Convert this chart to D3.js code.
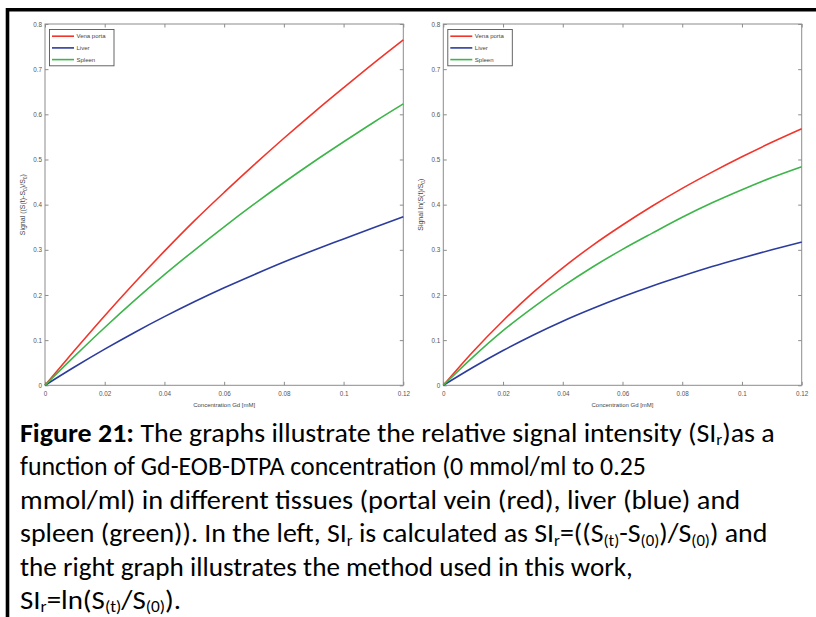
<!DOCTYPE html>
<html>
<head>
<meta charset="utf-8">
<script src="https://cdn.jsdelivr.net/npm/d3@7"></script>
<style>
  html, body { margin: 0; padding: 0; background: #ffffff; }
  svg { display: block; }
</style>
</head>
<body>
<svg id="fig" width="816" height="617"></svg>
<script>
// Gd concentration samples [mM]
const concentration = [0, 0.01, 0.02, 0.03, 0.04, 0.05, 0.06, 0.07, 0.08, 0.09, 0.10, 0.11, 0.12];

// Relative signal, (S(t)-S0)/S0
const portaRel  = [0, 0.078, 0.154, 0.227, 0.297, 0.364, 0.427, 0.488, 0.547, 0.604, 0.659, 0.713, 0.765];
const liverRel  = [0, 0.041, 0.080, 0.117, 0.152, 0.185, 0.216, 0.245, 0.273, 0.299, 0.324, 0.349, 0.373];
const spleenRel = [0, 0.065, 0.128, 0.188, 0.245, 0.299, 0.351, 0.401, 0.449, 0.495, 0.539, 0.582, 0.623];

// Relative signal, ln(S(t)/S0)
const portaLog  = [0, 0.075, 0.143, 0.205, 0.260, 0.310, 0.355, 0.397, 0.436, 0.472, 0.506, 0.538, 0.568];
const liverLog  = [0, 0.040, 0.077, 0.111, 0.142, 0.170, 0.196, 0.220, 0.242, 0.263, 0.282, 0.300, 0.317];
const spleenLog = [0, 0.063, 0.121, 0.172, 0.219, 0.262, 0.301, 0.337, 0.372, 0.404, 0.433, 0.460, 0.484];

const seriesNames  = ["Vena porta", "Liver", "Spleen"];
const seriesColors = ["#f2352b", "#2b3c9e", "#3db54a"];

const xTicks = [0, 0.02, 0.04, 0.06, 0.08, 0.10, 0.12];
const yTicks = [0, 0.1, 0.2, 0.3, 0.4, 0.5, 0.6, 0.7, 0.8];

const xTitle = "Concentration Gd [mM]";

const svg = d3.select("#fig");

// Page frame (left and top rule)
svg.append("path")
  .attr("d", "M7.5,617 V9.8 H816")
  .attr("fill", "none")
  .attr("stroke", "#000")
  .attr("stroke-width", 3.6);

function panel(opts) {
  const { left, right, top, bottom, series, yTitleParts, yTitleX } = opts;
  const x = d3.scaleLinear().domain([0, 0.12]).range([left, right]);
  const y = d3.scaleLinear().domain([0, 0.8]).range([bottom, top]);
  const g = svg.append("g");
  const tickFont = "Liberation Sans, Arial, sans-serif";
  const tickLen = 3.5;

  // plot box
  g.append("rect")
    .attr("x", left).attr("y", top)
    .attr("width", right - left).attr("height", bottom - top)
    .attr("fill", "#fff").attr("stroke", "#8c8c8c").attr("stroke-width", 1);

  const fmt = d => (d === 0 ? "0" : String(+d.toFixed(2)));

  const styleAxis = sel => {
    sel.select(".domain").remove();
    sel.selectAll(".tick line").attr("stroke", "#8c8c8c");
    sel.selectAll(".tick text")
      .attr("fill", "#555")
      .style("font-family", tickFont)
      .style("font-size", "6.3px");
  };

  g.append("g").attr("transform", `translate(0,${bottom})`)
    .call(d3.axisBottom(x).tickValues(xTicks).tickFormat(fmt).tickSizeInner(-tickLen).tickSizeOuter(0).tickPadding(6))
    .call(styleAxis);
  g.append("g").attr("transform", `translate(0,${top})`)
    .call(d3.axisTop(x).tickValues(xTicks).tickFormat("").tickSizeInner(-tickLen).tickSizeOuter(0))
    .call(styleAxis);
  g.append("g").attr("transform", `translate(${left},0)`)
    .call(d3.axisLeft(y).tickValues(yTicks).tickFormat(fmt).tickSizeInner(-tickLen).tickSizeOuter(0).tickPadding(3))
    .call(styleAxis);
  g.append("g").attr("transform", `translate(${right},0)`)
    .call(d3.axisRight(y).tickValues(yTicks).tickFormat("").tickSizeInner(-tickLen).tickSizeOuter(0))
    .call(styleAxis);

  // x title
  g.append("text")
    .attr("x", (left + right) / 2).attr("y", bottom + 21.5)
    .attr("text-anchor", "middle")
    .attr("fill", "#444")
    .style("font-family", tickFont).style("font-size", "6px")
    .text(xTitle);

  // y title (rotated), with subscripts
  const yt = g.append("text")
    .attr("transform", `translate(${yTitleX},${(top + bottom) / 2}) rotate(-90)`)
    .attr("text-anchor", "middle")
    .attr("fill", "#444")
    .style("font-family", tickFont).style("font-size", "7px");
  yTitleParts.forEach(p => {
    const t = yt.append("tspan").text(p.t);
    if (p.sub) t.attr("dy", 1.8).style("font-size", "5px");
    if (p.back) t.attr("dy", -1.8);
  });

  // curves
  const line = d3.line()
    .x((d, i) => x(concentration[i]))
    .y(d => y(d))
    .curve(d3.curveMonotoneX);
  series.forEach((vals, k) => {
    g.append("path")
      .datum(vals)
      .attr("fill", "none")
      .attr("stroke", seriesColors[k])
      .attr("stroke-width", 1.6)
      .attr("stroke-linejoin", "round")
      .attr("d", line);
  });

  // legend
  const lx = left + 4.5, ly = top + 5.5, lw = 64.5, lh = 36.3;
  const lg = g.append("g");
  lg.append("rect")
    .attr("x", lx).attr("y", ly).attr("width", lw).attr("height", lh)
    .attr("fill", "#fff").attr("stroke", "#555").attr("stroke-width", 0.9);
  seriesNames.forEach((name, k) => {
    const ry = ly + 6.7 + k * 11.7;
    lg.append("line")
      .attr("x1", lx + 2.5).attr("x2", lx + 24.5)
      .attr("y1", ry).attr("y2", ry)
      .attr("stroke", seriesColors[k]).attr("stroke-width", 1.6);
    lg.append("text")
      .attr("x", lx + 27).attr("y", ry + 2.1)
      .attr("fill", "#444")
      .style("font-family", tickFont).style("font-size", "6px")
      .text(name);
  });
}

panel({
  left: 45, right: 403.3, top: 24, bottom: 385.3,
  series: [portaRel, liverRel, spleenRel],
  yTitleX: 25,
  yTitleParts: [
    { t: "Signal ((S(t)-S" }, { t: "0", sub: true }, { t: ")/S", back: true },
    { t: "0", sub: true }, { t: ")", back: true }
  ]
});

panel({
  left: 443.3, right: 801.7, top: 24, bottom: 385.3,
  series: [portaLog, liverLog, spleenLog],
  yTitleX: 423,
  yTitleParts: [
    { t: "Signal ln(S(t)/S" }, { t: "0", sub: true }, { t: ")", back: true }
  ]
});

// Caption
const capFont = "Carlito, Lato, 'Open Sans', sans-serif";
const capSize = 27;
const capLeft = 20;
const capTop = 442;
const capStep = 33.4;
const subShift = 3.5;

const captionLines = [
  [{ t: "Figure 21:", b: true }, { t: " The graphs illustrate the relative signal intensity (SI" }, { t: "r", sub: true }, { t: ")as a", back: true }],
  [{ t: "function of Gd-EOB-DTPA concentration (0 mmol/ml to 0.25" }],
  [{ t: "mmol/ml) in different tissues (portal vein (red), liver (blue) and" }],
  [{ t: "spleen (green)). In the left, SI" }, { t: "r", sub: true }, { t: " is calculated as SI", back: true }, { t: "r", sub: true },
   { t: "=((S", back: true }, { t: "(t)", sub: true }, { t: "-S", back: true }, { t: "(0)", sub: true }, { t: ")/S", back: true },
   { t: "(0)", sub: true }, { t: ") and", back: true }],
  [{ t: "the right graph illustrates the method used in this work," }],
  [{ t: "SI" }, { t: "r", sub: true }, { t: "=ln(S", back: true }, { t: "(t)", sub: true }, { t: "/S", back: true },
   { t: "(0)", sub: true }, { t: ").", back: true }]
];
// Right edge of each caption line
const captionEnds = [783, 602, 757, 773, 621, 188];

const cap = svg.append("g");
const rows = captionLines.map((parts, i) => {
  const row = cap.append("g");
  const txt = row.append("text")
    .attr("x", capLeft).attr("y", capTop + i * capStep)
    .attr("fill", "#000")
    .style("font-family", capFont).style("font-size", capSize + "px");
  parts.forEach(p => {
    const s = txt.append("tspan").text(p.t);
    if (p.b) s.style("font-weight", "bold");
    if (p.sub) s.attr("dy", subShift).style("font-size", (capSize * 0.6) + "px");
    if (p.back) s.attr("dy", -subShift);
  });
  const w = txt.node().getComputedTextLength();
  return { row, fit: (captionEnds[i] - capLeft) / w };
});
// Condense the caption: blend each row's own fit with the common fit
const meanFit = d3.mean(rows, r => r.fit);
rows.forEach(r => {
  const sx = 0.5 * meanFit + 0.5 * r.fit;
  r.row.attr("transform", `translate(${capLeft},0) scale(${sx},1) translate(${-capLeft},0)`);
});
</script>
</body>
</html>
